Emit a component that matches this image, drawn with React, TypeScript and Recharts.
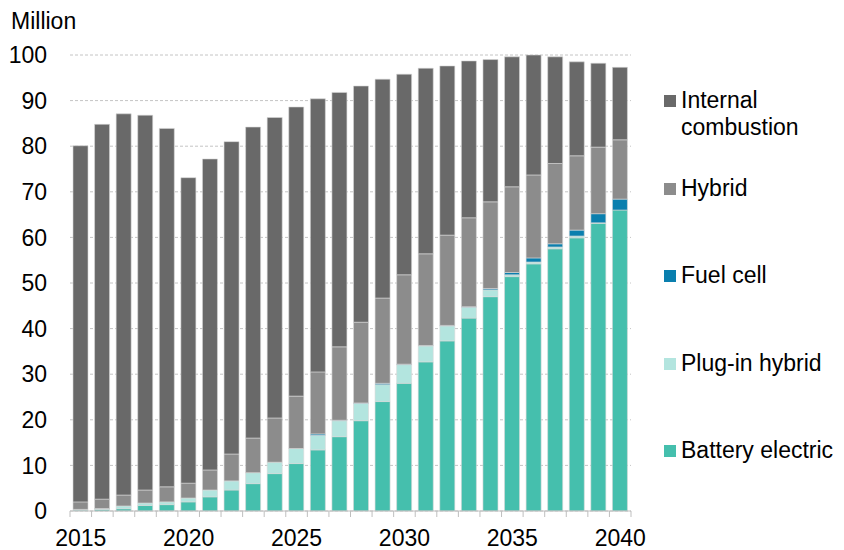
import { Bar, BarChart, CartesianGrid, Legend, XAxis, YAxis } from 'recharts'

const years = [
  2015, 2016, 2017, 2018, 2019, 2020, 2021, 2022, 2023, 2024, 2025, 2026, 2027,
  2028, 2029, 2030, 2031, 2032, 2033, 2034, 2035, 2036, 2037, 2038, 2039, 2040,
]
// million vehicles, per segment (stacked bottom to top: BEV, PHEV, FC, hybrid, ICE)
const batteryElectric = [
  0.2, 0.35, 0.5, 1.2, 1.4, 2.0, 3.1, 4.6, 6.0, 8.2, 10.4, 13.4, 16.3,
  19.8, 24.0, 28.0, 32.7, 37.3, 42.3, 47.0, 51.4, 54.2, 57.5, 59.9, 63.1, 66.0,
]
const plugInHybrid = [
  0.15, 0.15, 0.6, 0.55, 0.6, 0.85, 1.5, 2.0, 2.4, 2.5, 3.3, 3.2, 3.5,
  3.8, 3.7, 4.1, 3.5, 3.3, 2.4, 1.5, 0.4, 0.4, 0.4, 0.4, 0.1, 0,
]
const fuelCell = [
  0, 0.05, 0, 0, 0, 0, 0, 0, 0, 0, 0, 0.3, 0.1,
  0.1, 0.3, 0.1, 0.1, 0.1, 0.1, 0.3, 0.5, 0.9, 0.7, 1.3, 2.0, 2.4,
]
const hybrid = [
  1.65, 2.05, 2.4, 2.85, 3.3, 3.25, 4.4, 5.9, 7.6, 9.7, 11.5, 13.6, 16.1,
  17.7, 18.7, 19.6, 20.1, 19.8, 19.5, 19.0, 18.8, 18.2, 17.6, 16.3, 14.6, 13.0,
]
const internalCombustion = [
  78.1, 82.2, 83.6, 82.2, 78.6, 67.0, 68.2, 68.5, 68.2, 65.9, 63.4, 59.9, 55.8,
  51.8, 48.0, 44.0, 40.7, 37.1, 34.4, 31.2, 28.5, 26.3, 23.4, 20.6, 18.4, 15.9,
]
const yTicks = [0, 10, 20, 30, 40, 50, 60, 70, 80, 90, 100]

const series = [
  { key: 'bev', name: 'Battery electric', color: '#45bfad', values: batteryElectric },
  { key: 'phev', name: 'Plug-in hybrid', color: '#b3e5df', values: plugInHybrid },
  { key: 'fc', name: 'Fuel cell', color: '#0a7fae', values: fuelCell },
  { key: 'hybrid', name: 'Hybrid', color: '#8c8c8c', values: hybrid },
  { key: 'ice', name: 'Internal combustion', color: '#696969', values: internalCombustion },
]

const data = years.map((year, i) => {
  const row: Record<string, number> = { year }
  series.forEach((s) => (row[s.key] = s.values[i]))
  return row
})

const FONT = '"Liberation Sans", Arial, sans-serif'
const FS = 23
const PLOT_LEFT = 70
const PLOT_RIGHT = 631
const BAND = (PLOT_RIGHT - PLOT_LEFT) / years.length

function YearTick(props: any) {
  const { x, y, payload, index } = props
  const left = x - BAND / 2
  return (
    <g>
      <line x1={left} x2={left} y1={y} y2={y + 6} stroke="#bfbfbf" />
      {index === years.length - 1 && (
        <line x1={x + BAND / 2} x2={x + BAND / 2} y1={y} y2={y + 6} stroke="#bfbfbf" />
      )}
      {payload.value % 5 === 0 && (
        <text x={x} y={y + 35} textAnchor="middle" fontSize={FS} fill="#000" fontFamily={FONT}>
          {payload.value}
        </text>
      )}
    </g>
  )
}

const legendRows = [
  { name: ['Internal', 'combustion'], color: '#696969', top: 0 },
  { name: ['Hybrid'], color: '#8c8c8c', top: 88 },
  { name: ['Fuel cell'], color: '#0a7fae', top: 175 },
  { name: ['Plug-in hybrid'], color: '#b3e5df', top: 263 },
  { name: ['Battery electric'], color: '#45bfad', top: 350 },
]

function LegendBox() {
  return (
    <div style={{ position: 'relative', width: 180, height: 380, fontFamily: FONT, fontSize: FS }}>
      {legendRows.map((r) => (
        <div key={r.name[0]} style={{ position: 'absolute', left: 0, top: r.top }}>
          <div style={{ position: 'absolute', left: 0, top: 8, width: 12, height: 12, background: r.color }} />
          <div style={{ position: 'absolute', left: 17, top: 0, lineHeight: '27px', whiteSpace: 'nowrap', color: '#000' }}>
            {r.name.map((t) => (
              <div key={t}>{t}</div>
            ))}
          </div>
        </div>
      ))}
    </div>
  )
}

export default function App() {
  return (
    <div style={{ position: 'absolute', left: 0, top: 0, width: 844, height: 550, background: '#fff' }}>
      <div style={{ position: 'absolute', left: 11, top: 8, fontFamily: FONT, fontSize: FS, color: '#000' }}>
        Million
      </div>
      <BarChart
        width={844}
        height={550}
        data={data}
        margin={{ top: 55, right: 844 - PLOT_RIGHT, bottom: 0, left: 0 }}
      >
        <CartesianGrid vertical={false} stroke="#c4c4c4" strokeDasharray="3 2" />
        <XAxis
          dataKey="year"
          interval={0}
          height={39}
          tickLine={false}
          tickSize={0}
          tickMargin={0}
          axisLine={{ stroke: '#bfbfbf' }}
          tick={<YearTick />}
        />
        <YAxis
          width={PLOT_LEFT}
          domain={[0, 100]}
          ticks={yTicks}
          axisLine={false}
          tickLine={false}
          tickSize={0}
          tickMargin={23}
          tick={{ fontSize: FS, fill: '#000', fontFamily: FONT }}
        />
        <Legend
          layout="vertical"
          align="center"
          verticalAlign="middle"
          wrapperStyle={{ left: 664, top: 87, width: 180 }}
          content={() => <LegendBox />}
        />
        {series.map((s) => (
          <Bar
            key={s.key}
            dataKey={s.key}
            name={s.name}
            stackId="a"
            fill={s.color}
            stroke="#d6d6d6"
            strokeWidth={0.6}
            barSize={15}
            isAnimationActive={false}
          />
        ))}
      </BarChart>
    </div>
  )
}
